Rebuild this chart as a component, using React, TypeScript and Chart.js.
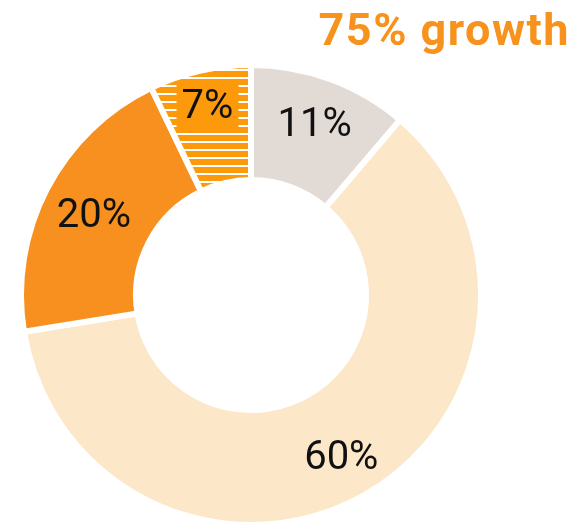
import React, { useEffect, useRef } from "react";
import { Chart, registerables } from "chart.js";

Chart.register(...registerables);

// ---- data ----
const categories = ["11%", "60%", "20%", "7%"];
const values = [11, 60, 20, 7];
const valueLabels = ["11%", "60%", "20%", "7%"];
const titleText = "75% growth";

// ---- styles ----
const sliceColors = ["#e2dad4", "#fde7c9", "#f7901e", "#fd9a0c"];
const stripedSlice = [false, false, false, true];
const labelRadius = [0.6, 0.6, 0.54, 0.7];
const titleColor = "#f7931d";

function makeStripePattern(base: string): CanvasPattern | string {
  const c = document.createElement("canvas");
  c.width = 8;
  c.height = 8;
  const g = c.getContext("2d");
  if (!g) return base;
  g.fillStyle = base;
  g.fillRect(0, 0, 8, 8);
  g.fillStyle = "#ffffff";
  g.fillRect(0, 5, 8, 2);
  const p = g.createPattern(c, "repeat");
  return p || base;
}

const labelPlugin = {
  id: "sliceLabels",
  afterDatasetsDraw(chart: any) {
    const ctx: CanvasRenderingContext2D = chart.ctx;
    const meta = chart.getDatasetMeta(0);
    ctx.save();
    ctx.font = "400 40px Roboto";
    ctx.textAlign = "center";
    ctx.textBaseline = "alphabetic";
    meta.data.forEach((arc: any, i: number) => {
      const p = arc.getProps(
        ["x", "y", "startAngle", "endAngle", "innerRadius", "outerRadius"],
        true
      );
      const mid = (p.startAngle + p.endAngle) / 2;
      const r = p.innerRadius + labelRadius[i] * (p.outerRadius - p.innerRadius);
      const x = p.x + Math.cos(mid) * r;
      const y = p.y + Math.sin(mid) * r;
      if (stripedSlice[i]) {
        ctx.fillStyle = sliceColors[i];
        ctx.fillRect(x - 31, y - 23, 62, 48);
      }
      ctx.fillStyle = "#111111";
      ctx.fillText(valueLabels[i], x, y + 14);
    });
    ctx.restore();
  },
  afterDraw(chart: any) {
    const ctx: any = chart.ctx;
    ctx.save();
    ctx.font = "bold 45px Roboto";
    ctx.textAlign = "right";
    ctx.textBaseline = "alphabetic";
    try {
      ctx.letterSpacing = "1.5px";
    } catch (e) {}
    ctx.fillStyle = titleColor;
    ctx.fillText(titleText, 570, 45);
    ctx.restore();
  },
};

export default function App() {
  const ref = useRef<HTMLCanvasElement | null>(null);

  useEffect(() => {
    if (!ref.current) return;
    const bg = sliceColors.map((c, i) => (stripedSlice[i] ? makeStripePattern(c) : c));
    const chart = new Chart(ref.current, {
      type: "doughnut",
      data: {
        labels: categories,
        datasets: [
          {
            data: values,
            backgroundColor: bg as any,
            borderColor: "#ffffff",
            borderWidth: 6,
            hoverOffset: 0,
          },
        ],
      },
      options: {
        animation: false,
        responsive: true,
        maintainAspectRatio: false,
        devicePixelRatio: 1,
        cutout: "50%",
        layout: { padding: { left: 18, top: 62, right: 90, bottom: 2 } },
        plugins: {
          legend: { display: false },
          tooltip: { enabled: false },
          title: { display: false },
        },
        events: [],
      },
      plugins: [labelPlugin],
    });
    return () => chart.destroy();
  }, []);

  return (
    <div
      style={{
        position: "fixed",
        left: 0,
        top: 0,
        width: 574,
        height: 530,
        background: "#ffffff",
      }}
    >
      <canvas ref={ref} />
    </div>
  );
}
